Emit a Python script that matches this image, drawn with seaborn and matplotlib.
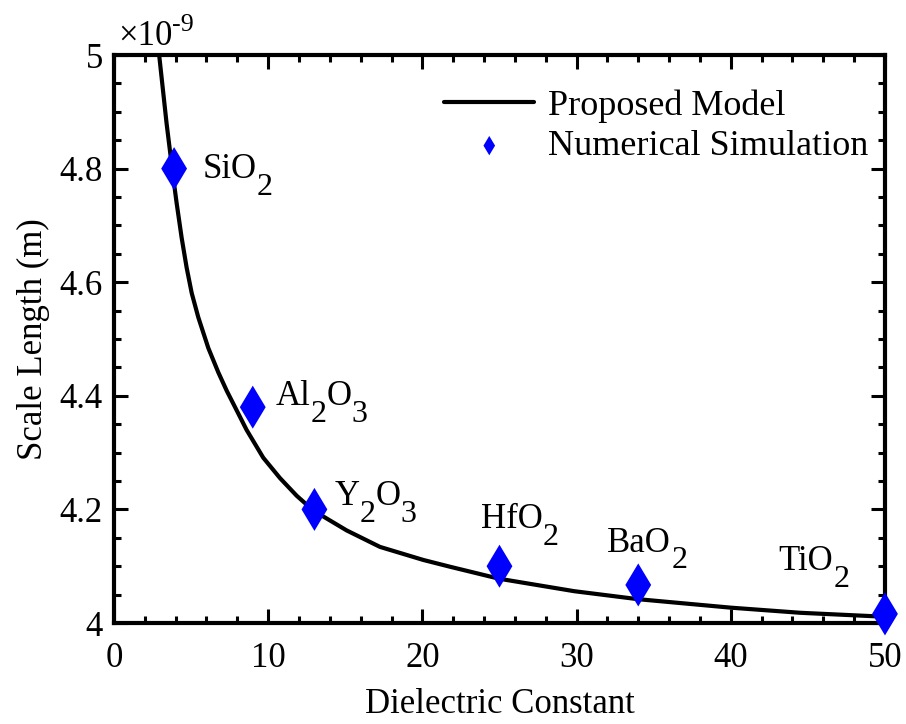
import matplotlib
matplotlib.use('Agg')
import matplotlib.pyplot as plt
import matplotlib.transforms as mtransforms
import seaborn as sns
import pandas as pd
from matplotlib.ticker import MultipleLocator, FuncFormatter

# proposed model curve (scale length in units of 1e-9 m)
model_k = [2.93, 3.41, 3.85, 4.06, 4.39, 4.71, 5.04, 5.47, 6.12, 6.77, 7.31,
           8.6, 9.68, 10.77, 11.85, 12.93, 15.09, 17.25, 20.06, 21.8, 24.97,
           29.85, 33.96, 40.0, 44.5, 50.0]
model_len = [5.0, 4.88, 4.783, 4.74, 4.678, 4.626, 4.581, 4.538, 4.484, 4.441, 4.409,
             4.34, 4.291, 4.255, 4.224, 4.198, 4.163, 4.134, 4.111, 4.099, 4.078,
             4.056, 4.042, 4.027, 4.018, 4.011]

# numerical simulation points
sim_k = [3.9, 9, 13, 25, 34, 50]
sim_len = [4.80, 4.38, 4.20, 4.10, 4.067, 4.016]
# material names as (text, is_subscript) pieces
materials = [
    [('SiO', False), ('2', True)],
    [('Al', False), ('2', True), ('O', False), ('3', True)],
    [('Y', False), ('2', True), ('O', False), ('3', True)],
    [('HfO', False), ('2', True)],
    [('BaO', False), ('2', True)],
    [('TiO', False), ('2', True)],
]

# where the material names sit (data coords, left/baseline)
label_x = [5.75, 10.5, 14.3, 23.8, 32.0, 43.1]
label_y = [4.783, 4.384, 4.208, 4.167, 4.1255, 4.093]

FS = 25

sns.set_style('ticks')
plt.rcParams['font.family'] = ['Liberation Serif', 'DejaVu Serif']
for key in ['text.color', 'axes.labelcolor', 'xtick.color', 'ytick.color', 'axes.edgecolor']:
    plt.rcParams[key] = 'black'

model_df = pd.DataFrame({'k': model_k, 'L': model_len})
sim_df = pd.DataFrame({'k': sim_k, 'L': sim_len})

fig = plt.figure(figsize=(9.06, 7.24), dpi=100)
ax = fig.add_axes([0.1258, 0.1395, 0.851, 0.7845])

sns.lineplot(data=model_df, x='k', y='L', ax=ax, color='black', linewidth=3,
             label='Proposed Model', sort=False)
sns.scatterplot(data=sim_df, x='k', y='L', ax=ax, color='blue', marker='d',
                s=480, edgecolor='none', label='Numerical Simulation',
                clip_on=False, zorder=5)

ax.set_xlim(0, 50)
ax.set_ylim(4, 5)
ax.xaxis.set_major_locator(MultipleLocator(10))
ax.xaxis.set_minor_locator(MultipleLocator(2))
ax.yaxis.set_major_locator(MultipleLocator(0.2))
ax.yaxis.set_minor_locator(MultipleLocator(0.05))
ax.yaxis.set_major_formatter(FuncFormatter(lambda v, p: '%g' % round(v, 2)))

ax.tick_params(which='both', direction='in', top=True, right=True, width=2.2,
               labelsize=FS)
ax.tick_params(which='major', length=10)
ax.tick_params(which='minor', length=5)
ax.tick_params(axis='x', which='major', pad=14)
ax.tick_params(axis='y', which='major', pad=8)
for sp in ax.spines.values():
    sp.set_linewidth(3)
    sp.set_visible(True)

ax.set_xlabel('Dielectric Constant', fontsize=FS, labelpad=9)
ax.set_ylabel('Scale Length (m)', fontsize=FS, labelpad=7)

leg = ax.legend(loc='upper right', bbox_to_anchor=(0.978, 0.94), frameon=False,
                fontsize=26, markerscale=0.45, handlelength=2.5, handletextpad=0.37,
                labelspacing=0.2, borderaxespad=0, borderpad=0)

renderer = fig.canvas.get_renderer()


def rich_text(x, y, pieces, trans, size, low=12.0, high=None):
    # draw text pieces one after another; subscripts lowered (or raised)
    dx = 0.0
    for txt, small in pieces:
        if small:
            dy = high if high is not None else -low
            fs = size * (0.75 if high is not None else 0.92)
        else:
            dy = 0.0
            fs = size
        tr = mtransforms.offset_copy(trans, fig=fig, x=dx, y=dy, units='points')
        t = ax.text(x, y, txt, transform=tr, fontsize=fs, ha='left', va='baseline')
        dx += t.get_window_extent(renderer).width * 72.0 / fig.dpi


for pieces, tx, ty in zip(materials, label_x, label_y):
    rich_text(tx, ty, pieces, ax.transData, FS)

# axis multiplier, written the way the original shows it
rich_text(0.005, 1.018, [('×10', False), ('-9', True)], ax.transAxes, FS, high=10.0)

fig.savefig('out.png', dpi=100)
